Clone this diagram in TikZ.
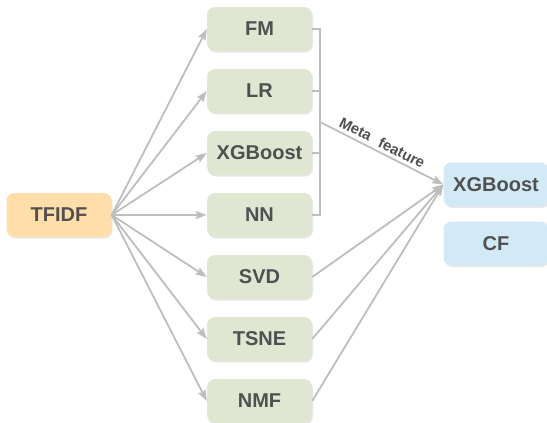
\documentclass[tikz,border=0pt]{standalone}
\usepackage{fontspec}
\setmainfont{Liberation Sans}
\usetikzlibrary{arrows.meta}
\usetikzlibrary{shapes,arrows,shadows}
\definecolor{vert}{RGB}{223,231,211}
\definecolor{orange}{RGB}{255,222,170}
\definecolor{bleu}{RGB}{210,234,246}
\definecolor{gristexte}{RGB}{80,80,80}
\definecolor{grisligne}{RGB}{190,190,190}
\definecolor{ombre}{RGB}{232,232,232}
\begin{document}
\begin{tikzpicture}[x=1pt,y=-1pt]
%stylesdesnœuds
\tikzstyle{boite}=[rectangle,rounded corners=8pt,minimum width=105pt,minimum height=44pt,
inner sep=0pt,text=gristexte,font=\fontsize{20}{24}\selectfont\bfseries,
drop shadow={shadow xshift=1pt,shadow yshift=-1.5pt,fill=ombre,opacity=1}]
\tikzstyle{modele}=[boite,fill=vert]
\tikzstyle{entree}=[boite,fill=orange]
\tikzstyle{final}=[boite,fill=bleu]
%stylesdesflèches
\tikzstyle{lien}=[-{Stealth[length=11pt,width=8pt,inset=1.5pt]},draw=grisligne,fill=grisligne,line width=1.8pt]
\tikzstyle{trait}=[draw=grisligne,line width=1.8pt]
\useasboundingbox (0,0) rectangle (547,423);
%placementdesnœuds
\node[entree] (tfidf) at (59,215) {TFIDF};
\node[modele] (fm) at (259.5,29) {FM};
\node[modele] (lr) at (259.5,91) {LR};
\node[modele] (xgb) at (259.5,153) {XGBoost};
\node[modele] (nn) at (259.5,215) {NN};
\node[modele] (svd) at (259.5,277) {SVD};
\node[modele] (tsne) at (259.5,339) {TSNE};
\node[modele] (nmf) at (259.5,401) {NMF};
\node[final] (xgbfin) at (496,184.5) {XGBoost};
\node[final] (cf) at (496,243.5) {CF};
\coordinate (meta) at (320,122);
%placementdesflèches
\foreach \m in {fm,lr,xgb,nn,svd,tsne,nmf}
  \draw[lien] (tfidf.east) -- (\m.west);
\draw[trait] (fm.east) -| (meta) |- (nn.east);
\draw[trait] (lr.east) -- (lr.east -| meta);
\draw[trait] (xgb.east) -- (xgb.east -| meta);
\draw[lien] (meta) -- (xgbfin.west) node[pos=0.47,sloped,above=0pt,text=gristexte,
  font=\fontsize{15}{17}\selectfont\bfseries]{Meta\hspace{0.35em} feature};
\foreach \m in {svd,tsne,nmf}
  \draw[lien] (\m.east) -- (xgbfin.west);
\end{tikzpicture}
\end{document}
